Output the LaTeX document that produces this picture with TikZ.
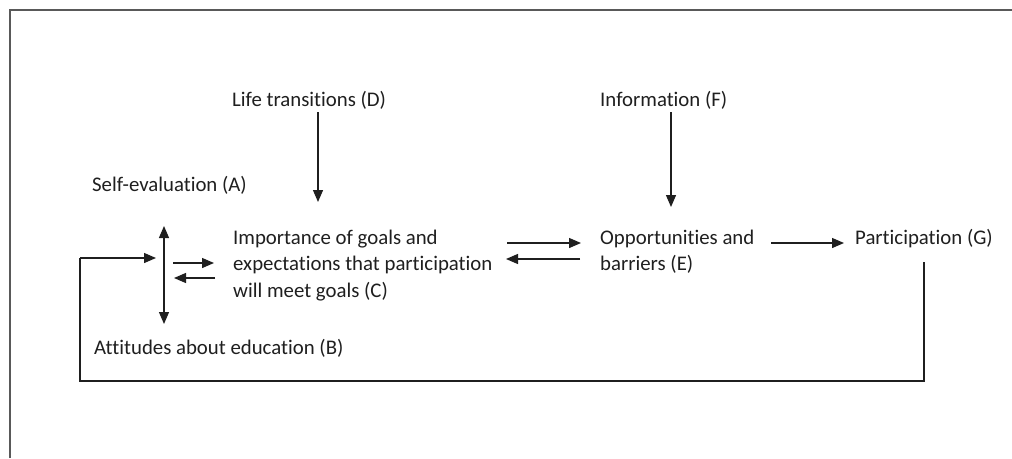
\documentclass[tikz,border=0pt]{standalone}
\usepackage{fontspec}
\setmainfont{Carlito}[Ligatures=NoCommon]
\usetikzlibrary{arrows.meta}
\begin{document}
\begin{tikzpicture}[x=1pt,y=-1pt,
  txt/.style={inner sep=0pt, anchor=base west, align=left,
    font=\fontsize{20.8}{26.7}\selectfont, text=black!88},
  arr/.style={-{Triangle[length=12pt,width=10pt]}, line width=1.3pt, black!88},
  dbl/.style={{Triangle[length=12pt,width=10pt]}-{Triangle[length=12pt,width=10pt]}, line width=1.3pt, black!88},
  ln/.style={line width=1.3pt, black!88},
  frame/.style={line width=2pt, black!65}]
\useasboundingbox (0,0) rectangle (1012,458);
\fill[white] (0,0) rectangle (1012,458);
% outer frame (left and top edges visible)
\draw[frame] (10,458) -- (10,10) -- (1012,10);

% text nodes (base anchor = baseline of the last line)
\node[txt] (D) at (232,106) {Life transitions (D)};
\node[txt] (F) at (600,106) {Information (F)};
\node[txt] (A) at (92,191) {Self-evaluation (A)};
\node[txt] (C) at (233,297.4) {Importance of goals and\\expectations that participation\\will meet goals (C)};
\node[txt] (E) at (600,270.7) {Opportunities and\\barriers (E)};
\node[txt] (G) at (855,244) {Participation (G)};
\node[txt] (B) at (94,354) {Attitudes about education (B)};

% coordinates for connector ends
\coordinate (Dend) at (318,202);
\coordinate (Fend) at (671,207);
\coordinate (ABtop) at (164,226);
\coordinate (ABbot) at (164,324);
\coordinate (CAr1) at (173,263);
\coordinate (CAr2) at (214,263);
\coordinate (CAl1) at (215,278);
\coordinate (CAl2) at (174,278);
\coordinate (CEr1) at (507,243);
\coordinate (CEr2) at (581,243);
\coordinate (CEl1) at (580,259);
\coordinate (CEl2) at (506,259);
\coordinate (EG1) at (771,243);
\coordinate (EG2) at (844,243);
\coordinate (Gtop) at (924,262);
\coordinate (Gbot) at (924,381);
\coordinate (Lbot) at (80,381);
\coordinate (Ltop) at (80,258);
\coordinate (Lend) at (156,258);

% connectors
\draw[arr] (D.south -| Dend) ++(0,3) -- (Dend);
\draw[arr] (F.south -| Fend) ++(0,3) -- (Fend);
\draw[dbl] (ABtop) -- (ABbot);
\draw[arr] (CAr1) -- (CAr2);
\draw[arr] (CAl1) -- (CAl2);
\draw[arr] (CEr1) -- (CEr2);
\draw[arr] (CEl1) -- (CEl2);
\draw[arr] (EG1) -- (EG2);
\draw[ln] (Gtop) -- (Gbot) -- (Lbot) -- (Ltop);
\draw[arr] (Ltop) -- (Lend);
\end{tikzpicture}
\end{document}
